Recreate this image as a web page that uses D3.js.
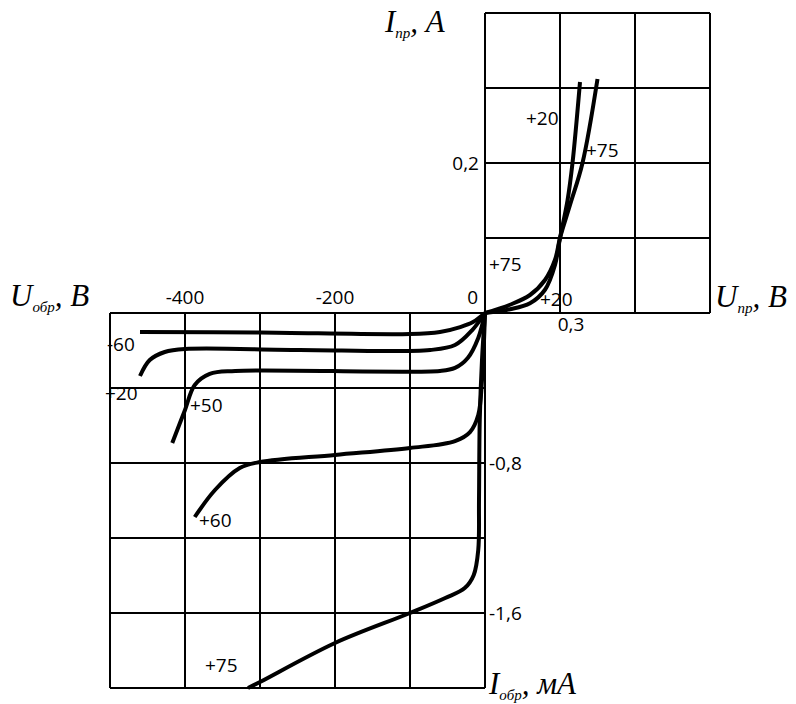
<!DOCTYPE html>
<html>
<head>
<meta charset="utf-8">
<script src="https://cdn.jsdelivr.net/npm/d3@7"></script>
<style>
  body { margin: 0; background: #fff; }
  svg { display: block; }
</style>
</head>
<body>
<div id="chart"></div>
<script>
const width = 796, height = 704;

// forward branch (U in V, I in A)
const fwd20U = [0, 0.10, 0.18, 0.24, 0.28, 0.30, 0.33, 0.35, 0.38];
const fwd20I = [0, 0.005, 0.013, 0.031, 0.064, 0.10, 0.15, 0.20, 0.308];
const fwd75U = [0, 0.10, 0.18, 0.24, 0.28, 0.30, 0.34, 0.39, 0.45];
const fwd75I = [0, 0.011, 0.024, 0.044, 0.071, 0.10, 0.144, 0.20, 0.312];

// reverse branch (U in V, I in mA)
const revM60U = [-460, -300, -100, -60, -33, -16, 0];
const revM60I = [-0.101, -0.104, -0.112, -0.101, -0.075, -0.048, 0];
const rev20U = [-460, -447, -427, -400, -247, -73, -40, -17, 0];
const rev20I = [-0.336, -0.251, -0.208, -0.192, -0.197, -0.197, -0.171, -0.091, 0];
const rev50U = [-417, -400, -387, -367, -333, -60, -40, -23, -9, 0];
const rev50I = [-0.693, -0.517, -0.384, -0.325, -0.309, -0.309, -0.293, -0.24, -0.133, 0];
const rev60U = [-387, -360, -327, -300, -200, -100, -40, -20, -9, -4, 0];
const rev60I = [-1.088, -0.944, -0.827, -0.795, -0.757, -0.72, -0.683, -0.635, -0.544, -0.357, 0];
const rev75U = [-316, -300, -200, -100, -53, -27, -15, -9, -8, -7, -4, 0];
const rev75I = [-2.0, -1.968, -1.76, -1.6, -1.52, -1.467, -1.397, -1.264, -0.997, -0.571, -0.25, 0];

const fwdXTicks = [0, 0.3, 0.6, 0.9];
const fwdYTicks = [0, 0.1, 0.2, 0.3, 0.4];
const revXTicks = [-500, -400, -300, -200, -100, 0];
const revYTicks = [0, -0.4, -0.8, -1.2, -1.6, -2.0];

let svg = d3.select("#chart")
    .append("svg")
    .attr("width", width)
    .attr("height", height);

let xF = d3.scaleLinear().domain([0, 0.9]).range([485, 710]);
let yF = d3.scaleLinear().domain([0, 0.4]).range([313, 13]);
let xR = d3.scaleLinear().domain([-500, 0]).range([110, 485]);
let yR = d3.scaleLinear().domain([-2, 0]).range([688, 313]);

const labelFont = "'Open Sans', sans-serif";
const titleFont = "'Liberation Serif', 'DejaVu Serif', serif";

// grids
let grid = svg.append("g").attr("stroke", "#000").attr("stroke-width", 2);
fwdXTicks.forEach(function(v) {
    grid.append("line").attr("x1", xF(v)).attr("x2", xF(v)).attr("y1", yF(0)).attr("y2", yF(0.4));
});
fwdYTicks.forEach(function(v) {
    grid.append("line").attr("x1", xF(0)).attr("x2", xF(0.9)).attr("y1", yF(v)).attr("y2", yF(v));
});
revXTicks.forEach(function(v) {
    grid.append("line").attr("x1", xR(v)).attr("x2", xR(v)).attr("y1", yR(0)).attr("y2", yR(-2));
});
revYTicks.forEach(function(v) {
    grid.append("line").attr("x1", xR(-500)).attr("x2", xR(0)).attr("y1", yR(v)).attr("y2", yR(v));
});

// curves
let lineF = d3.line()
    .x(function(d) { return xF(d[0]); })
    .y(function(d) { return yF(d[1]); })
    .curve(d3.curveCatmullRom.alpha(0.5));
let lineR = d3.line()
    .x(function(d) { return xR(d[0]); })
    .y(function(d) { return yR(d[1]); })
    .curve(d3.curveCatmullRom.alpha(0.5));

function zip(a, b) { return a.map(function(v, i) { return [v, b[i]]; }); }

let curves = svg.append("g")
    .attr("fill", "none")
    .attr("stroke", "#000")
    .attr("stroke-width", 4)
    .attr("stroke-linejoin", "round");

[[fwd20U, fwd20I], [fwd75U, fwd75I]].forEach(function(c) {
    curves.append("path").attr("d", lineF(zip(c[0], c[1])));
});
[[revM60U, revM60I], [rev20U, rev20I], [rev50U, rev50I], [rev60U, rev60I], [rev75U, rev75I]].forEach(function(c) {
    curves.append("path").attr("d", lineR(zip(c[0], c[1])));
});

// tick labels
function label(x, y, txt, anchor) {
    svg.append("text")
        .attr("x", x).attr("y", y)
        .attr("text-anchor", anchor || "start")
        .style("font-family", labelFont)
        .style("font-size", "19px")
        .text(txt);
}
label(xR(-400), 304, "-400", "middle");
label(xR(-200), 304, "-200", "middle");
label(478, 304, "0", "end");
label(xF(0.3) + 11, 331, "0,3", "middle");
label(479, yF(0.2) + 7, "0,2", "end");
label(489, yR(-0.8) + 7, "-0,8");
label(489, yR(-1.6) + 7, "-1,6");

// curve labels
label(526, 125, "+20");
label(586, 157, "+75");
label(489, 271, "+75");
label(540, 306, "+20");
label(107, 351, "-60");
label(105, 400, "+20");
label(190, 412, "+50");
label(199, 527, "+60");
label(205, 672, "+75");

// axis titles
function title(x, y, main, sub, unit) {
    let t = svg.append("text")
        .attr("x", x).attr("y", y)
        .style("font-family", titleFont)
        .style("font-style", "italic")
        .style("font-size", "31px");
    t.append("tspan").text(main);
    t.append("tspan").attr("dy", 6).style("font-size", "15px").text(sub);
    t.append("tspan").attr("dy", -6).text(", " + unit);
}
title(385, 32, "I", "пр", "A");
title(10, 306, "U", "обр", "B");
title(715, 307, "U", "пр", "B");
title(489, 694, "I", "обр", "мА");
</script>
</body>
</html>
